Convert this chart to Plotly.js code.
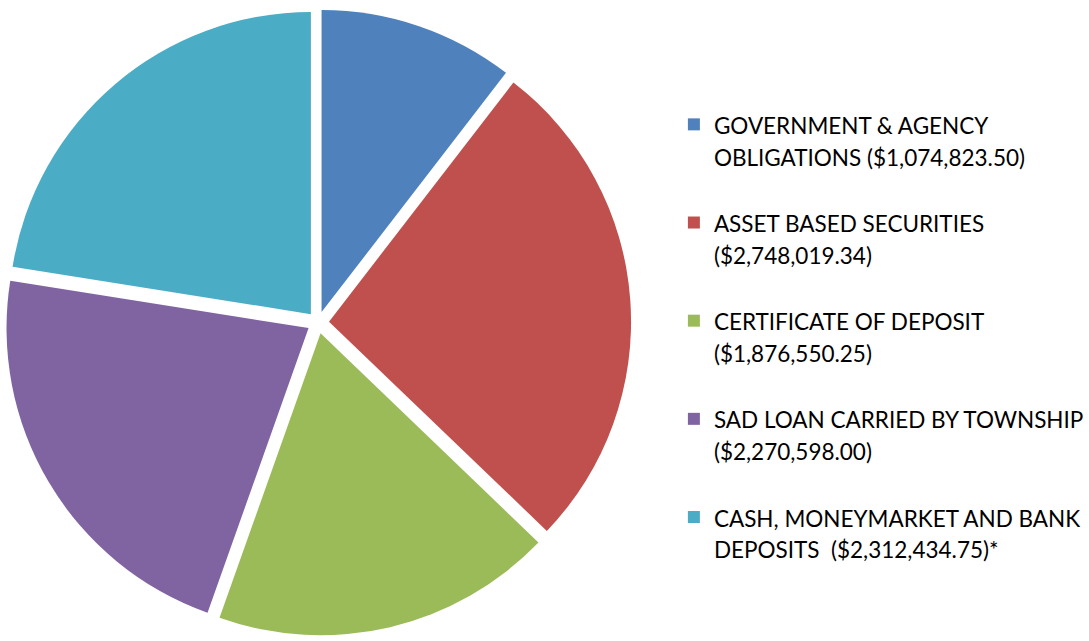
<!DOCTYPE html>
<html>
<head>
<meta charset="utf-8">
<script src="https://cdn.plot.ly/plotly-3.0.1.min.js"></script>
<style>html,body{margin:0;padding:0;background:#fff;}#chart{width:1089px;height:641px;}</style>
</head>
<body>
<div id="chart"></div>
<script>
const categories = [
  "GOVERNMENT & AGENCY<br>OBLIGATIONS ($1,074,823.50)",
  "ASSET BASED SECURITIES<br>($2,748,019.34)",
  "CERTIFICATE OF DEPOSIT<br>($1,876,550.25)",
  "SAD LOAN CARRIED BY TOWNSHIP<br>($2,270,598.00)",
  "CASH, MONEYMARKET AND BANK<br>DEPOSITS  ($2,312,434.75)*"
];
const values = [1074823.50, 2748019.34, 1876550.25, 2270598.00, 2312434.75];
const colors = ["#4F81BD", "#C0504D", "#9BBB59", "#8064A2", "#4BACC6"];

const W = 1089, H = 641;
function legendLabel(c) {
  return c.split("<br>").map(s => '<span style="font-size:22.5px">' + s + '</span>').join("<br>") + "<br> ";
}
const trace = {
  type: "pie",
  labels: categories.map(legendLabel),
  values: values,
  sort: false,
  direction: "clockwise",
  rotation: 0,
  textinfo: "none",
  hoverinfo: "label+value+percent",
  pull: values.map(() => 0.0364),
  marker: { colors: colors, line: { color: "#ffffff", width: 0 } },
  domain: { x: [5 / W, 634 / W], y: [4 / H, 633 / H] }
};
const layout = {
  width: W, height: H,
  margin: { l: 0, r: 0, t: 0, b: 0 },
  paper_bgcolor: "#ffffff",
  showlegend: true,
  legend: {
    x: 677 / W, y: 1 - 102 / H, xanchor: "left", yanchor: "top",
    valign: "top",
    font: { family: "Lato, 'Open Sans', sans-serif", size: 24.4, color: "#000000" },
    bgcolor: "rgba(0,0,0,0)"
  }
};
Plotly.newPlot("chart", [trace], layout, { staticPlot: true, displayModeBar: false });
</script>
</body>
</html>
